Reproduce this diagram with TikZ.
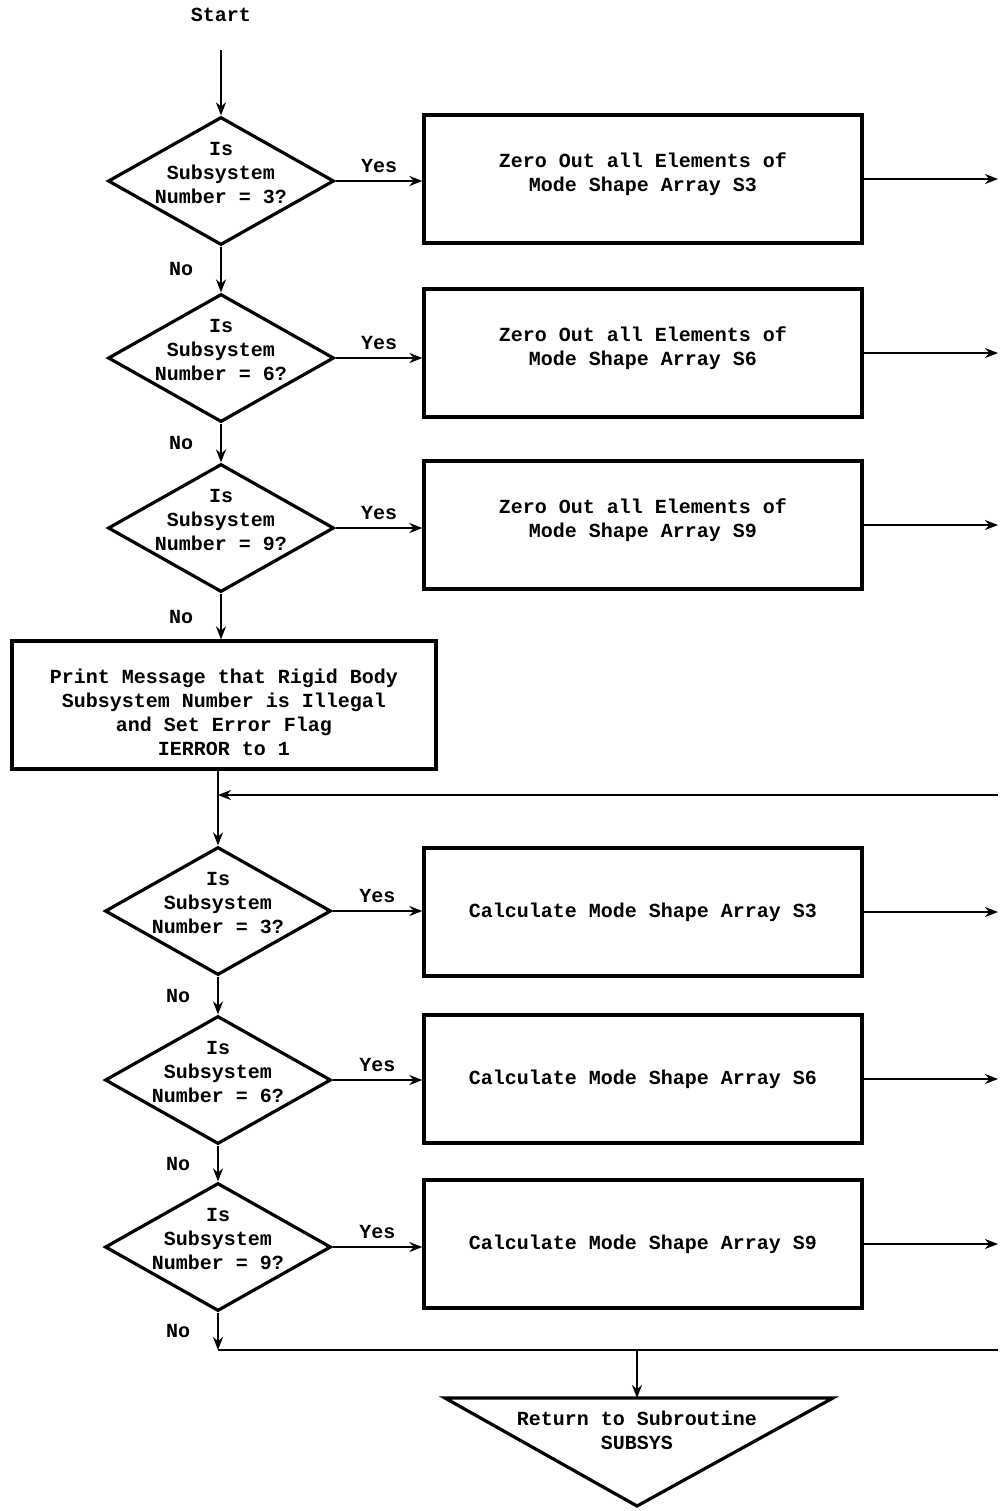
\documentclass[tikz,border=0pt]{standalone}
\usepackage{fontspec}
\setmonofont{Liberation Mono}
\usetikzlibrary{shapes.geometric,arrows.meta}
\tikzset {>={Stealth[length=6.5pt,width=5pt]}}
\tikzset{
  decision/.style={diamond,draw,line width=1.6pt,minimum width=113pt,
    minimum height=64pt,inner sep=-14pt,align=center,text depth=8pt},
  process/.style={rectangle,draw,line width=1.6pt,minimum width=219pt,
    minimum height=64pt,align=center},
  flow/.style={->,line width=1.2pt}
}

\begin{document}
\begin{tikzpicture}[x=.5pt,y=-.5pt,
  font=\fontsize{10}{12}\selectfont\ttfamily\bfseries]
\useasboundingbox (0,0) rectangle (1000,1511);

\node (start) at (221,15) {Start};
\coordinate (s0) at (221,50);

% first pass: zero out
\node[decision] (q1) at (221,181) {Is\\Subsystem\\Number = 3?};
\node[decision] (q2) at (221,358) {Is\\Subsystem\\Number = 6?};
\node[decision] (q3) at (221,528) {Is\\Subsystem\\Number = 9?};

\node[process,text depth=7pt] (z3) at (643,179) {Zero Out all Elements of\\Mode Shape Array S3};
\node[process,text depth=7pt] (z6) at (643,353) {Zero Out all Elements of\\Mode Shape Array S6};
\node[process,text depth=7pt] (z9) at (643,525) {Zero Out all Elements of\\Mode Shape Array S9};

\node[process,minimum width=212pt,text height=51pt] (err) at (224,705)
  {Print Message that Rigid Body\\Subsystem Number is Illegal\\and Set Error Flag\\IERROR to 1};

% second pass: calculate
\node[decision] (q4) at (218,911) {Is\\Subsystem\\Number = 3?};
\node[decision] (q5) at (218,1080) {Is\\Subsystem\\Number = 6?};
\node[decision] (q6) at (218,1247) {Is\\Subsystem\\Number = 9?};

\node[process] (c3) at (643,912) {Calculate Mode Shape Array S3};
\node[process] (c6) at (643,1079) {Calculate Mode Shape Array S6};
\node[process] (c9) at (643,1244) {Calculate Mode Shape Array S9};

\coordinate (right) at (998,0);
\coordinate (loopR) at (998,795);
\coordinate (busR) at (998,1350);

\draw[flow] (s0) -- (q1.north);

\foreach \q/\b in {q1/z3,q2/z6,q3/z9,q4/c3,q5/c6,q6/c9}
  \draw[flow] (\q.east) -- (\q.east -| \b.west)
    node[midway,above] (yes\q) {Yes};

\foreach \b in {z3,z6,z9,c3,c6,c9}
  \draw[flow] (\b.east) -- (\b.east -| right);

\foreach \a/\b in {q1/q2,q2/q3,q4/q5,q5/q6}
  \draw[flow] (\a.south) -- (\b.north)
    node[midway,left=10pt] (no\a) {No};

\draw[flow] (q3.south) -- (q3.south |- err.north)
  node[midway,left=10pt] (noq3) {No};
\draw[flow] (q4.north |- err.south) -- (q4.north);
\draw[flow] (loopR) -- (loopR -| q4.north);

\draw[flow] (q6.south) -- (q6.south |- busR)
  node[midway,left=10pt] (noq6) {No};
\draw[line width=1.2pt] (q6.south |- busR) -- (busR);

% return
\coordinate (retL) at (445,1398);
\coordinate (retR) at (833,1398);
\coordinate (retA) at (637,1506);
\coordinate (retT) at (637,1398);
\draw[line width=1.6pt] (retL) -- (retR) -- (retA) -- cycle;
\node[align=center] (ret) at (637,1430) {Return to Subroutine\\SUBSYS};
\draw[flow] (retT |- busR) -- (retT);
\end{tikzpicture}
\end{document}
